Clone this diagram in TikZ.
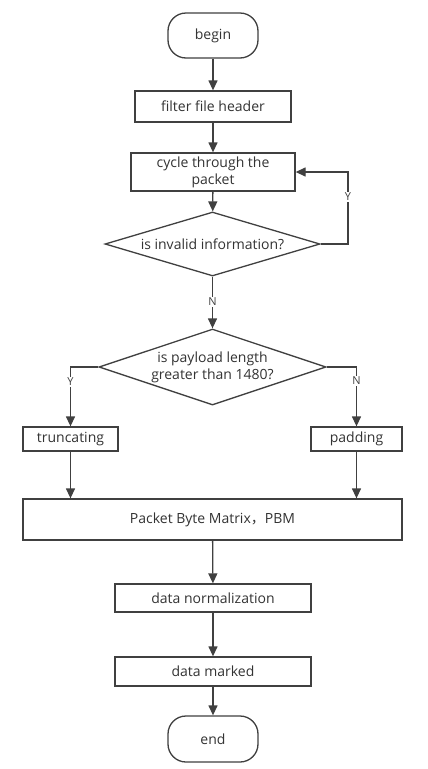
\documentclass[tikz,border=0pt]{standalone}
\usepackage{fontspec}
\setmainfont{Open Sans}
\newfontfamily\cjk{Noto Sans CJK SC}
\usetikzlibrary{shapes.geometric,arrows.meta}
\definecolor{ln}{HTML}{404040}
\definecolor{tx}{HTML}{333333}
\begin{document}
\begin{tikzpicture}[x=1pt,y=-1pt,
 box/.style={draw=ln, line width=1.3pt, rectangle, inner sep=0pt, text=tx, font=\fontsize{14}{17}\selectfont, align=center},
 term/.style={box, rounded corners=18pt},
 dec/.style={box, diamond},
 arr/.style={draw=ln, line width=1.3pt, -{Triangle[length=10pt,width=9pt]}},
 lab/.style={fill=white, text=ln, font=\fontsize{11}{13}\selectfont, inner sep=1pt}]
\useasboundingbox[fill=white] (0,0) rectangle (428,769);
\node[term, minimum width=90pt, minimum height=45pt] (begin) at (213,35.5) {begin};
\node[box, minimum width=156pt, minimum height=31pt] (filter) at (213,106.5) {filter file header};
\node[box, minimum width=164pt, minimum height=38pt] (cycle) at (213,172) {cycle through the\\packet};
\node[dec, shape aspect=3.36, minimum width=215pt, minimum height=64pt] (d1) at (212.5,244) {is invalid information?};
\node[dec, shape aspect=2.99, minimum width=227pt, minimum height=76pt] (d2) at (212.5,367) {is payload length\\greater than 1480?};
\node[box, minimum width=95pt, minimum height=24pt] (trunc) at (70.5,439) {truncating};
\node[box, minimum width=91pt, minimum height=24pt] (pad) at (356.5,439) {padding};
\node[box, minimum width=379pt, minimum height=41pt] (pbm) at (212.5,519.5) {Packet Byte Matrix{\cjk ，}PBM};
\node[box, minimum width=196pt, minimum height=28pt] (norm) at (213,598) {data normalization};
\node[box, minimum width=196pt, minimum height=29pt] (marked) at (213,671.5) {data marked};
\node[term, minimum width=90pt, minimum height=46pt] (end) at (213,739) {end};
\coordinate (yl) at (348,172);
\draw[arr] (begin) -- (filter);
\draw[arr] (filter) -- (cycle);
\draw[arr] (cycle) -- (d1);
\draw[arr] (d1.east) -| (yl) -- (cycle.east);
\draw[arr] (d1.south) -- (d2.north);
\draw[arr] (d2.west) -| (trunc.north);
\draw[arr] (d2.east) -| (pad.north);
\draw[arr] (trunc.south) -- (trunc.south |- pbm.north);
\draw[arr] (pad.south) -- (pad.south |- pbm.north);
\draw[arr] (pbm) -- (norm);
\draw[arr] (norm) -- (marked);
\draw[arr] (marked) -- (end);
\node[lab] (ly1) at (348,197) {Y};
\node[lab] (ln1) at (212.5,302) {N};
\node[lab] (ly2) at (70.5,382) {Y};
\node[lab] (ln2) at (356.5,381) {N};
\end{tikzpicture}
\end{document}
